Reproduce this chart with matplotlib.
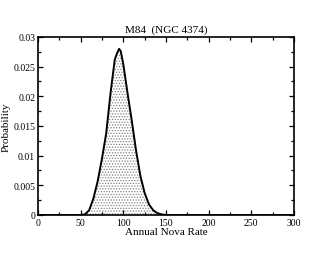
import numpy as np
import matplotlib
matplotlib.use('Agg')
import matplotlib.pyplot as plt
from matplotlib.ticker import MultipleLocator

plt.rcParams['font.family'] = ['Liberation Serif', 'DejaVu Serif']
plt.rcParams['hatch.color'] = '#808080'
plt.rcParams['hatch.linewidth'] = 0.6

rate = [0, 50, 55, 60, 65, 70, 75, 80, 85, 90, 92, 95, 97, 100, 105, 110, 115,
        120, 125, 130, 135, 140, 145, 150, 300]
prob = [0, 0, 0.0001, 0.0008, 0.0028, 0.0057, 0.0095, 0.0138, 0.0205, 0.0262,
        0.0270, 0.0280, 0.0276, 0.0254, 0.0205, 0.0158, 0.0108, 0.0066, 0.0037,
        0.0018, 0.0008, 0.0003, 0.0001, 0, 0]

fig = plt.figure(figsize=(3.3, 2.55), dpi=100)
ax = fig.add_axes([0.115, 0.153, 0.776, 0.698])

# stippled area under the curve
ax.fill_between(rate, prob, 0, facecolor='white', hatch='......',
                edgecolor='#808080', linewidth=0)
ax.plot(rate, prob, color='black', linewidth=1.4)

ax.set_xlim(0, 300)
ax.set_ylim(0, 0.03)
ax.xaxis.set_major_locator(MultipleLocator(50))
ax.xaxis.set_minor_locator(MultipleLocator(25))
ax.yaxis.set_minor_locator(MultipleLocator(0.0025))
ax.set_yticks([0, 0.005, 0.01, 0.015, 0.02, 0.025, 0.03])
ax.set_yticklabels(['0', '0.005', '0.01', '0.015', '0.02', '0.025', '0.03'])
ax.tick_params(which='both', direction='in', top=True, right=True,
               labelsize=7, width=0.9, pad=2)
ax.tick_params(which='major', length=3.5)
ax.tick_params(which='minor', length=2)
for s in ax.spines.values():
    s.set_linewidth(1.2)

ax.set_title('M84  (NGC 4374)', fontsize=8, pad=4)
ax.set_xlabel('Annual Nova Rate', fontsize=8, labelpad=0)
ax.set_ylabel('Probability', fontsize=8, labelpad=2)

fig.savefig('out.png', dpi=100)
